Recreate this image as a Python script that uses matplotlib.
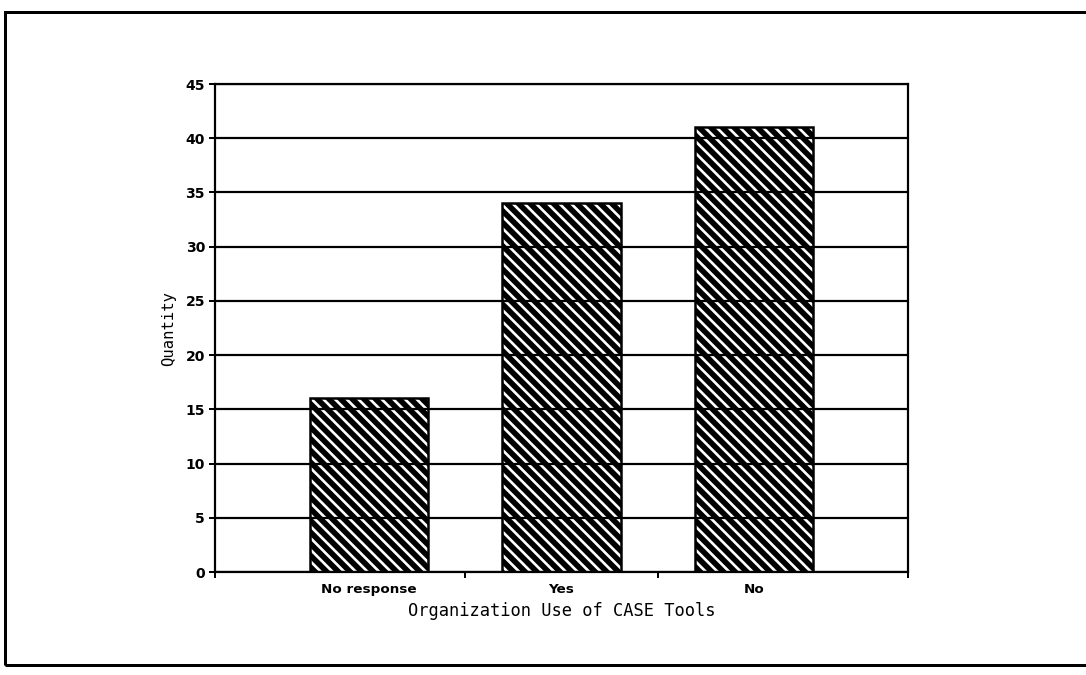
import matplotlib
matplotlib.use("Agg")
import matplotlib.pyplot as plt
from matplotlib.patches import Rectangle
import numpy as np

categories = ["No response", "Yes", "No"]
values = [16, 34, 41]
yticks = [0, 5, 10, 15, 20, 25, 30, 35, 40, 45]

DPI = 70
W, H = 1086, 675
def px(p):
    return p * 72.0 / DPI

plt.rcParams['hatch.linewidth'] = px(5.6)
fig = plt.figure(figsize=(W / DPI, H / DPI), dpi=DPI)
fig.patch.set_facecolor("white")

ax = fig.add_axes([215 / W, 1 - 572 / H, 693 / W, 488 / H])
x = np.arange(len(categories))
ax.bar(x, values, width=0.613, facecolor="white", edgecolor="black",
       hatch="\\\\", linewidth=px(2.5), zorder=1)

ax.set_xlim(-0.8, 2.8)
ax.set_ylim(0, 45)
ax.set_yticks(yticks)
ax.set_yticklabels([str(v) for v in yticks], fontsize=px(14), fontweight="bold")
ax.set_xticks(x)
ax.set_xticklabels(categories, fontsize=px(13.5), fontweight="bold")
ax.tick_params(axis="x", which="major", length=0, pad=px(11))
ax.set_xticks([-0.8, 0.5, 1.5, 2.8], minor=True)
ax.tick_params(axis="x", which="minor", length=px(6), width=px(2), direction="out")
ax.tick_params(axis="y", which="major", length=px(6), width=px(2), direction="out", pad=px(4))

ax.set_axisbelow(False)
ax.yaxis.grid(True, color="black", linewidth=px(2.2), zorder=2.5)
for s in ax.spines.values():
    s.set_linewidth(px(2.2))
    s.set_zorder(3)

ax.set_ylabel("Quantity", fontsize=px(15.5), family="DejaVu Sans Mono", labelpad=px(9))
ax.set_xlabel("Organization Use of CASE Tools", fontsize=px(17),
              family="DejaVu Sans Mono", labelpad=px(6))

# outer frame
frame = Rectangle((5 / W, 1 - 665 / H), 1.1, (665 - 12) / H, transform=fig.transFigure,
                  fill=False, edgecolor="black", linewidth=px(3), clip_on=False)
fig.patches.append(frame)

fig.savefig("out.png", dpi=DPI)
